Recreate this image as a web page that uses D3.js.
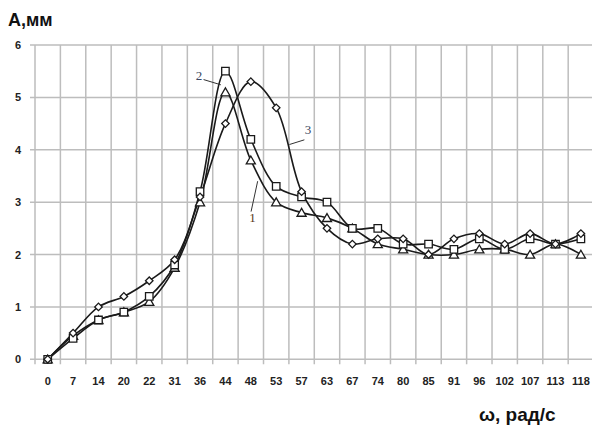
<!DOCTYPE html>
<html>
<head>
<meta charset="utf-8">
<script src="https://cdn.jsdelivr.net/npm/d3@7"></script>
<style>
  html, body { margin: 0; padding: 0; background: #fff; }
  svg { display: block; }
</style>
</head>
<body>
<svg id="chart" width="592" height="425"></svg>
<script>
// Frequency categories, rad/s
const omega = ["0","7","14","20","22","31","36","44","48","53","57","63","67","74","80","85","91","96","102","107","113","118"];
// Amplitude, mm
const series1 = [0, 0.45, 0.75, 0.9, 1.1, 1.75, 3.0, 5.1, 3.8, 3.0, 2.8, 2.7, 2.5, 2.2, 2.1, 2.0, 2.0, 2.1, 2.1, 2.0, 2.2, 2.0];
const series2 = [0, 0.4, 0.75, 0.9, 1.2, 1.8, 3.2, 5.5, 4.2, 3.3, 3.1, 3.0, 2.5, 2.5, 2.2, 2.2, 2.1, 2.3, 2.1, 2.3, 2.2, 2.3];
const series3 = [0, 0.5, 1.0, 1.2, 1.5, 1.9, 3.1, 4.5, 5.3, 4.8, 3.2, 2.5, 2.2, 2.3, 2.3, 2.0, 2.3, 2.4, 2.2, 2.4, 2.2, 2.4];
const yTicks = [0, 1, 2, 3, 4, 5, 6];

const svg = d3.select("#chart");
const plotLeft = 35, bandW = 25.39, plotTop = 45, plotBottom = 359.3;

const x = d3.scaleBand().domain(omega).range([plotLeft, plotLeft + bandW * omega.length]).padding(0);
const y = d3.scaleLinear().domain([0, 6]).range([plotBottom, plotTop]);
const cx = d => x(d) + x.bandwidth() / 2;
// positional helper for annotations between categories
const xi = d3.scaleLinear().domain([0, omega.length - 1]).range([cx(omega[0]), cx(omega[omega.length - 1])]);

const gridColor = "#bdbdbd";

// horizontal gridlines with small outer ticks
svg.append("g").selectAll("line").data(yTicks).join("line")
  .attr("x1", plotLeft - 5).attr("x2", plotLeft + bandW * omega.length)
  .attr("y1", d => y(d)).attr("y2", d => y(d))
  .attr("stroke", gridColor).attr("stroke-width", 1.5);

// vertical gridlines at category boundaries
const bounds = d3.range(omega.length + 1).map(i => plotLeft + i * x.bandwidth());
svg.append("g").selectAll("line").data(bounds).join("line")
  .attr("x1", d => d).attr("x2", d => d)
  .attr("y1", plotTop).attr("y2", plotBottom + 5)
  .attr("stroke", gridColor).attr("stroke-width", 1.5);

// y tick labels
svg.append("g").selectAll("text").data(yTicks).join("text")
  .attr("x", 21).attr("y", d => y(d) + 4)
  .attr("text-anchor", "end")
  .attr("font-family", "Liberation Sans, Arial, sans-serif")
  .attr("font-weight", "bold").attr("font-size", 11)
  .attr("fill", "#222")
  .text(d => d);

// x tick labels
svg.append("g").selectAll("text").data(omega).join("text")
  .attr("x", d => cx(d)).attr("y", 385)
  .attr("text-anchor", "middle")
  .attr("font-family", "Liberation Sans, Arial, sans-serif")
  .attr("font-weight", "bold").attr("font-size", 11)
  .attr("fill", "#222")
  .text(d => d);

// axis titles
svg.append("text").attr("x", 8).attr("y", 26)
  .attr("font-family", "Liberation Sans, Arial, sans-serif")
  .attr("font-weight", "bold").attr("font-size", 18).attr("fill", "#111")
  .text("A,мм");
svg.append("text").attr("x", 479).attr("y", 421)
  .attr("font-family", "Liberation Sans, Arial, sans-serif")
  .attr("font-weight", "bold").attr("font-size", 19).attr("fill", "#111")
  .text("ω, рад/с");

// smoothed curves
const line = d3.line()
  .x((d, i) => cx(omega[i]))
  .y(d => y(d))
  .curve(d3.curveCatmullRom.alpha(0.5));

const allSeries = [
  { values: series1, marker: "triangle" },
  { values: series2, marker: "square" },
  { values: series3, marker: "diamond" }
];

allSeries.forEach(s => {
  svg.append("path").datum(s.values)
    .attr("d", line)
    .attr("fill", "none")
    .attr("stroke", "#1a1a1a")
    .attr("stroke-width", 1.6);
});

// diamonds are squares turned by 45 degrees
const shapes = {
  triangle: { gen: d3.symbol().type(d3.symbolTriangle).size(36), rot: 0, dy: 1 },
  square: { gen: d3.symbol().type(d3.symbolSquare).size(56), rot: 0, dy: 0 },
  diamond: { gen: d3.symbol().type(d3.symbolSquare).size(28), rot: 45, dy: 0 }
};

allSeries.forEach(s => {
  const sh = shapes[s.marker];
  svg.append("g").selectAll("path").data(s.values).join("path")
    .attr("d", sh.gen())
    .attr("transform", (d, i) => `translate(${cx(omega[i])},${y(d) + sh.dy}) rotate(${sh.rot})`)
    .attr("fill", "#fff")
    .attr("stroke", "#1a1a1a")
    .attr("stroke-width", 1.3);
});

// curve number labels with leader lines
const notes = [
  { text: "2", tx: 5.96, ty: 5.33, from: [6.14, 5.34], to: [6.82, 5.24], color: "#3a4660" },
  { text: "1", tx: 8.07, ty: 2.62, from: [8.01, 2.82], to: [8.27, 3.40], color: "#5a3a1a" },
  { text: "3", tx: 10.25, ty: 4.30, from: [9.52, 4.10], to: [10.11, 4.19], color: "#3a4660" }
];
notes.forEach(n => {
  svg.append("line")
    .attr("x1", xi(n.from[0])).attr("y1", y(n.from[1]))
    .attr("x2", xi(n.to[0])).attr("y2", y(n.to[1]))
    .attr("stroke", "#333").attr("stroke-width", 1);
  svg.append("text")
    .attr("x", xi(n.tx)).attr("y", y(n.ty))
    .attr("text-anchor", "middle")
    .attr("font-family", "Liberation Serif, Times New Roman, serif")
    .attr("font-size", 13).attr("fill", n.color)
    .text(n.text);
});
</script>
</body>
</html>
